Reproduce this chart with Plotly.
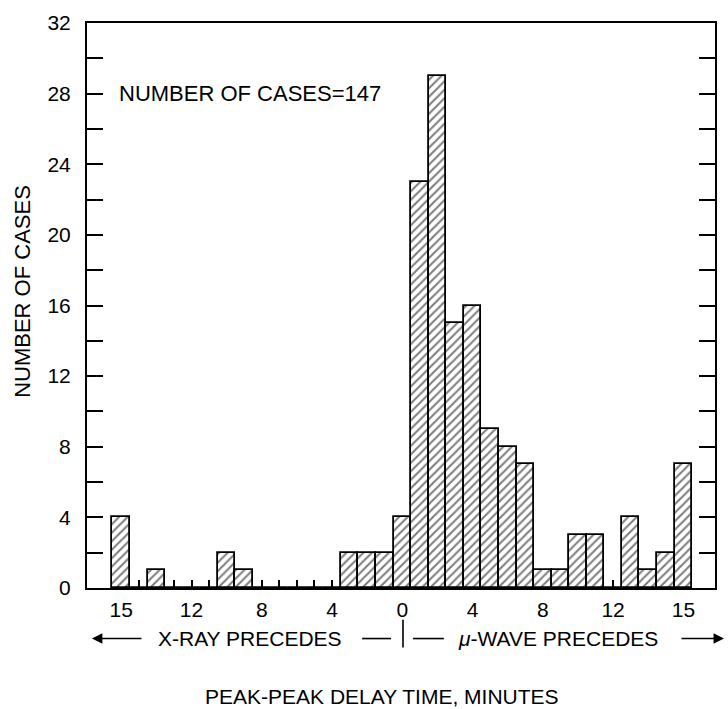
import plotly.graph_objects as go

# ---------------- data ----------------
bin_pos = [-16, -15, -14, -13, -12, -11, -10, -9, -8, -7, -6, -5, -4, -3, -2, -1,
           0, 1, 2, 3, 4, 5, 6, 7, 8, 9, 10, 11, 12, 13, 14, 15, 16]
counts = [4, 0, 1, 0, 0, 0, 2, 1, 0, 0, 0, 0, 0, 2, 2, 2,
          4, 23, 29, 15, 16, 9, 8, 7, 1, 1, 3, 3, 0, 4, 1, 2, 7]
x_label_pos = [-16, -12, -8, -4, 0, 4, 8, 12, 16]
x_label_text = ["15", "12", "8", "4", "0", "4", "8", "12", "15"]
y_tick_vals = [0, 2, 4, 6, 8, 10, 12, 14, 16, 18, 20, 22, 24, 26, 28, 30, 32]
y_label_vals = [0, 4, 8, 12, 16, 20, 24, 28, 32]

FONT = "Liberation Sans, Arial, sans-serif"

x_tick_text = [x_label_text[x_label_pos.index(v)] if v in x_label_pos else "" for v in bin_pos]
y_tick_text = [str(v) if v in y_label_vals else "" for v in y_tick_vals]

fig = go.Figure()
fig.add_trace(go.Bar(
    x=bin_pos, y=counts, width=1.0,
    marker=dict(color="white",
                line=dict(color="black", width=1.8),
                pattern=dict(shape="/", fgcolor="black", bgcolor="white",
                             size=6, solidity=0.35)),
    showlegend=False,
))

# plot area geometry (pixels) used to place decorations in paper coords
W, H = 728, 709
L, R, T, B = 87, 11, 18, 121
PW, PH = W - L - R, H - T - B


def px(xp):
    return (xp - L) / PW


def py(yp):
    return (H - B - yp) / PH


fig.update_layout(
    width=W, height=H,
    margin=dict(l=L, r=R, t=T, b=B),
    paper_bgcolor="white", plot_bgcolor="white",
    bargap=0,
    font=dict(family=FONT, color="black", size=21),
    xaxis=dict(range=[-17.95, 17.8], showgrid=False, zeroline=False,
               showline=True, linecolor="black", linewidth=2, mirror=True,
               ticks="inside", ticklen=8, tickwidth=1.5, tickcolor="black",
               tickvals=bin_pos, ticktext=x_tick_text,
               tickfont=dict(size=21), ticklabelstandoff=2,
               layer="below traces"),
    yaxis=dict(range=[0, 32], showgrid=False, zeroline=False,
               showline=True, linecolor="black", linewidth=2, mirror="ticks",
               ticks="inside", ticklen=16, tickwidth=1.5, tickcolor="black",
               tickvals=y_tick_vals, ticktext=y_tick_text,
               tickfont=dict(size=21), ticklabelstandoff=10,
               layer="below traces"),
)

ann = []
ann.append(dict(text="NUMBER OF CASES=147", xref="paper", yref="y",
                x=px(117), y=28, xanchor="left", yanchor="middle",
                showarrow=False, font=dict(size=22)))
ann.append(dict(text="NUMBER OF CASES", xref="paper", yref="paper",
                x=px(22), y=py(289), xanchor="center", yanchor="middle",
                textangle=-90, showarrow=False, font=dict(size=22)))
ann.append(dict(text="PEAK-PEAK DELAY TIME, MINUTES", xref="paper", yref="paper",
                x=px(203), y=py(697), xanchor="left", yanchor="middle",
                showarrow=False, font=dict(size=21)))
ann.append(dict(text="X-RAY PRECEDES", xref="paper", yref="paper",
                x=px(251), y=py(639), xanchor="center", yanchor="middle",
                showarrow=False, font=dict(size=21)))
ann.append(dict(text="<i>\u03bc</i>-WAVE PRECEDES", xref="paper", yref="paper",
                x=px(560), y=py(639), xanchor="center", yanchor="middle",
                showarrow=False, font=dict(size=21)))
# arrows (tail offsets in pixels relative to the tip)
ann.append(dict(text="", xref="paper", yref="paper", x=px(92), y=py(639),
                ax=51, ay=0, axref="pixel", ayref="pixel",
                showarrow=True, arrowhead=2, arrowsize=1.3, arrowwidth=1.6,
                arrowcolor="black"))
ann.append(dict(text="", xref="paper", yref="paper", x=px(726), y=py(639),
                ax=-44, ay=0, axref="pixel", ayref="pixel",
                showarrow=True, arrowhead=2, arrowsize=1.3, arrowwidth=1.6,
                arrowcolor="black"))
fig.update_layout(annotations=ann)

line = dict(color="black", width=1.6)
fig.add_shape(type="line", xref="paper", yref="paper",
              x0=px(363), x1=px(392), y0=py(639), y1=py(639), line=line)
fig.add_shape(type="line", xref="paper", yref="paper",
              x0=px(414), x1=px(445), y0=py(639), y1=py(639), line=line)
fig.add_shape(type="line", xref="paper", yref="paper",
              x0=px(404), x1=px(404), y0=py(620), y1=py(648), line=line)

fig.write_html("out.html")
